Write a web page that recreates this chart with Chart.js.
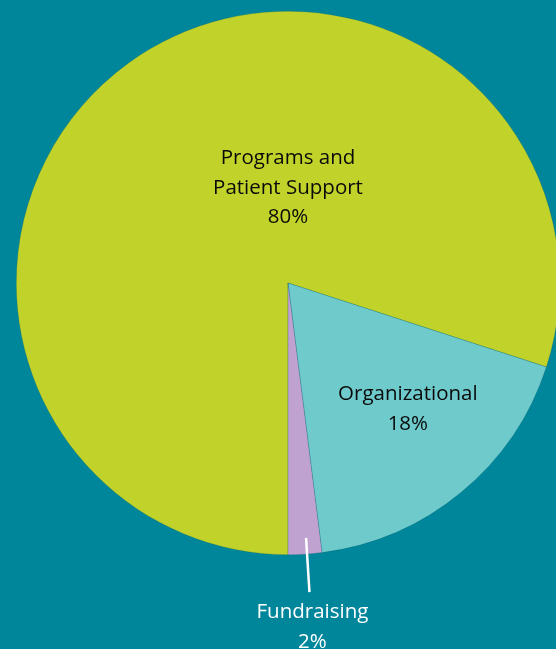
<!DOCTYPE html>
<html>
<head>
<meta charset="utf-8">
<script src="https://cdn.jsdelivr.net/npm/chart.js@4"></script>
<style>
  html, body { margin: 0; padding: 0; background: #00869b; overflow: hidden; }
  #wrap { width: 576px; height: 649px; }
</style>
</head>
<body>
<div id="wrap"><canvas id="myChart"></canvas></div>
<script>
const categories = ['Programs and Patient Support', 'Organizational', 'Fundraising'];
const labelLines = [['Programs and', 'Patient Support'], ['Organizational'], ['Fundraising']];
const shares = [80, 18, 2];
const colors = ['#c1d32b', '#6fcacb', '#c0a2d0'];

// slice labels drawn on top of the pie
const sliceLabels = {
    id: 'sliceLabels',
    afterDatasetsDraw(chart) {
        const ctx = chart.ctx;
        const arcs = chart.getDatasetMeta(0).data;
        ctx.save();
        ctx.font = '20.5px "Open Sans"';
        ctx.textAlign = 'center';
        ctx.textBaseline = 'middle';
        const lh = 29.5;
        arcs.forEach((arc, i) => {
            const { x, y, outerRadius, startAngle, endAngle } = arc.getProps(['x', 'y', 'outerRadius', 'startAngle', 'endAngle'], true);
            const mid = (startAngle + endAngle) / 2;
            const lines = labelLines[i].concat(shares[i] + '%');
            let cx, cy;
            if (i === 0) {
                cx = x;
                cy = y - outerRadius * 0.35;
            } else if (i === 1) {
                cx = x + Math.cos(mid) * outerRadius * 0.64 + 9;
                cy = y + Math.sin(mid) * outerRadius * 0.64 - 8;
            } else {
                // leader line out of the thin slice
                ctx.strokeStyle = '#ffffff';
                ctx.lineWidth = 2.5;
                ctx.beginPath();
                ctx.moveTo(x + Math.cos(mid) * outerRadius * 0.94 + 2, y + Math.sin(mid) * outerRadius * 0.94);
                ctx.lineTo(x + Math.cos(mid) * outerRadius * 1.14 + 2, y + Math.sin(mid) * outerRadius * 1.14);
                ctx.stroke();
                cx = x + Math.cos(mid) * outerRadius * 1.14 + 5;
                cy = y + Math.sin(mid) * outerRadius * 1.14 + 35;
            }
            ctx.fillStyle = i === 2 ? '#ffffff' : '#0a0a0a';
            const top = cy - (lines.length - 1) * lh / 2;
            lines.forEach((t, k) => ctx.fillText(t, cx, top + k * lh));
        });
        ctx.restore();
    }
};

new Chart(document.getElementById('myChart'), {
    type: 'pie',
    data: {
        labels: categories,
        datasets: [{
            data: shares,
            backgroundColor: colors,
            borderColor: 'rgba(0,80,90,0.35)',
            borderWidth: 0.6,
            hoverOffset: 0
        }]
    },
    options: {
        responsive: true,
        maintainAspectRatio: false,
        animation: false,
        events: [],
        rotation: 180,
        layout: { padding: { top: 11, bottom: 94, left: 0, right: 0 } },
        plugins: {
            legend: { display: false },
            tooltip: { enabled: false }
        }
    },
    plugins: [sliceLabels]
});
</script>
</body>
</html>
